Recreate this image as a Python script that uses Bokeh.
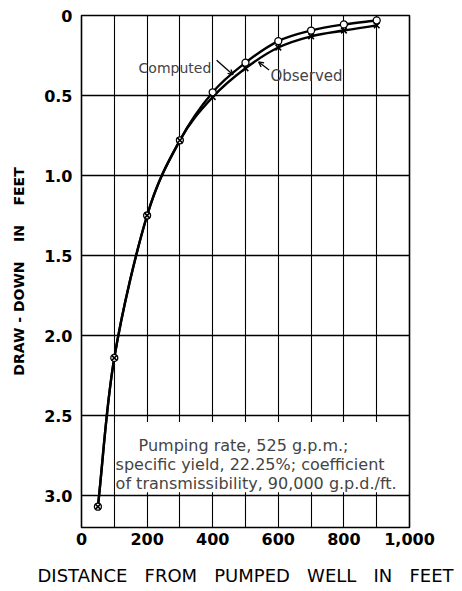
import numpy as np
from bokeh.plotting import figure
from bokeh.models import FixedTicker, Label, BoxAnnotation, Arrow, OpenHead
from bokeh.embed import file_html
from bokeh.resources import INLINE

distance = [50, 100, 200, 300, 400, 500, 600, 700, 800, 900]
computed = [3.07, 2.14, 1.25, 0.78, 0.48, 0.295, 0.16, 0.094, 0.056, 0.031]
observed = [3.07, 2.14, 1.25, 0.78, 0.51, 0.33, 0.20, 0.13, 0.094, 0.062]
x_ticks = [0, 200, 400, 600, 800, 1000]
x_tick_labels = ["0", "200", "400", "600", "800", "1,000"]
y_ticks = [0, 0.5, 1.0, 1.5, 2.0, 2.5, 3.0]
y_tick_labels = ["0", "0.5", "1.0", "1.5", "2.0", "2.5", "3.0"]
x_grid = [0, 100, 200, 300, 400, 500, 600, 700, 800, 900, 1000]

FONT = "DejaVu Sans"
SP = "\u00a0"

p = figure(width=455, height=590, x_range=(0, 1000), y_range=(3.2, 0),
           output_backend="svg", toolbar_location=None,
           min_border_left=81, min_border_right=46, min_border_top=15, min_border_bottom=63)
p.background_fill_color = "white"
p.border_fill_color = "white"
p.outline_line_color = "black"
p.outline_line_width = 1.6

p.xgrid.ticker = FixedTicker(ticks=x_grid)
p.ygrid.ticker = FixedTicker(ticks=y_ticks)
p.xgrid.grid_line_width = 1.1
p.ygrid.grid_line_width = 1.6
for g in (p.xgrid, p.ygrid):
    g.grid_line_color = "black"
    g.grid_line_alpha = 1.0

p.xaxis.ticker = FixedTicker(ticks=x_ticks)
p.xaxis.major_label_overrides = {t: l for t, l in zip(x_ticks, x_tick_labels)}
p.yaxis.ticker = FixedTicker(ticks=y_ticks)
p.yaxis.major_label_overrides = {t: l for t, l in zip(y_ticks, y_tick_labels)}
for ax in (p.xaxis, p.yaxis):
    ax.axis_line_color = None
    ax.major_tick_line_color = None
    ax.minor_tick_line_color = None
    ax.major_tick_out = 0
    ax.major_tick_in = 0
    ax.minor_tick_out = 0
    ax.minor_tick_in = 0
    ax.major_label_text_font = FONT
    ax.major_label_text_font_size = "16px"
    ax.major_label_text_font_style = "bold"
    ax.major_label_text_color = "black"
    ax.axis_label_text_font = FONT
    ax.axis_label_text_color = "black"
p.xaxis.major_label_standoff = 5
p.yaxis.major_label_standoff = 9
p.xaxis.axis_label = (SP * 3).join(["DISTANCE", "FROM", "PUMPED", "WELL", "IN", "FEET"])
p.xaxis.axis_label_text_font_size = "18px"
p.xaxis.axis_label_text_font_style = "normal"
p.xaxis.axis_label_standoff = 17
p.yaxis.axis_label = "DRAW" + SP + "-" + SP + "DOWN" + SP * 4 + "IN" + SP * 4 + "FEET"
p.yaxis.axis_label_text_font_size = "14px"
p.yaxis.axis_label_text_font_style = "bold"
p.yaxis.axis_label_standoff = 14

# white box behind the note
box = BoxAnnotation(left=102, right=996, top=2.54, bottom=2.98,
                    fill_color="white", fill_alpha=1.0, line_color=None, level="underlay")
p.add_layout(box)


def smooth(xs, ys):
    """Catmull-Rom curve through the measured points, as cubic Bezier pieces."""
    xs = np.asarray(xs, float)
    ys = np.asarray(ys, float)
    xp = np.concatenate([[2 * xs[0] - xs[1]], xs, [2 * xs[-1] - xs[-2]]])
    yp = np.concatenate([[2 * ys[0] - ys[1]], ys, [2 * ys[-1] - ys[-2]]])
    n = len(xs) - 1
    x0, y0 = xs[:-1], ys[:-1]
    x1, y1 = xs[1:], ys[1:]
    cx0 = x0 + (xp[2:n + 2] - xp[0:n]) / 6.0
    cy0 = y0 + (yp[2:n + 2] - yp[0:n]) / 6.0
    cx1 = x1 - (xp[3:n + 3] - xp[1:n + 1]) / 6.0
    cy1 = y1 - (yp[3:n + 3] - yp[1:n + 1]) / 6.0
    return dict(x0=x0, y0=y0, x1=x1, y1=y1, cx0=cx0, cy0=cy0, cx1=cx1, cy1=cy1)


for series in (computed, observed):
    b = smooth(distance, series)
    p.bezier(x0=b["x0"], y0=b["y0"], x1=b["x1"], y1=b["y1"],
             cx0=b["cx0"], cy0=b["cy0"], cx1=b["cx1"], cy1=b["cy1"],
             line_color="black", line_width=2.4)

p.scatter(distance, computed, marker="circle", size=7, fill_color="white",
          line_color="black", line_width=1.3)
p.scatter(distance, observed, marker="x", size=8, line_color="black", line_width=1.6)

p.add_layout(Label(x=174, y=0.325, text="Computed", text_font=FONT, text_font_size="14px",
                   text_baseline="alphabetic", text_align="left"))
p.add_layout(Label(x=576, y=0.375, text="Observed", text_font=FONT, text_font_size="15px",
                   text_baseline="alphabetic", text_align="left"))
p.add_layout(Arrow(x_start=412, y_start=0.28, x_end=462, y_end=0.37,
                   line_width=1.3, end=OpenHead(size=5, line_width=1.3)))
p.add_layout(Arrow(x_start=572, y_start=0.34, x_end=540, y_end=0.29,
                   line_width=1.3, end=OpenHead(size=5, line_width=1.3)))

note = ["Pumping rate, 525 g.p.m.;",
        "specific yield, 22.25%; coefficient",
        "of transmissibility, 90,000 g.p.d./ft."]
note_x = [174, 104, 104]
note_y = [2.69, 2.805, 2.925]
for t, nx, ny in zip(note, note_x, note_y):
    p.add_layout(Label(x=nx, y=ny, text=t, text_font=FONT, text_font_size="16px",
                       text_baseline="alphabetic", text_align="left"))

open("out.html", "w").write(file_html(p, INLINE))
